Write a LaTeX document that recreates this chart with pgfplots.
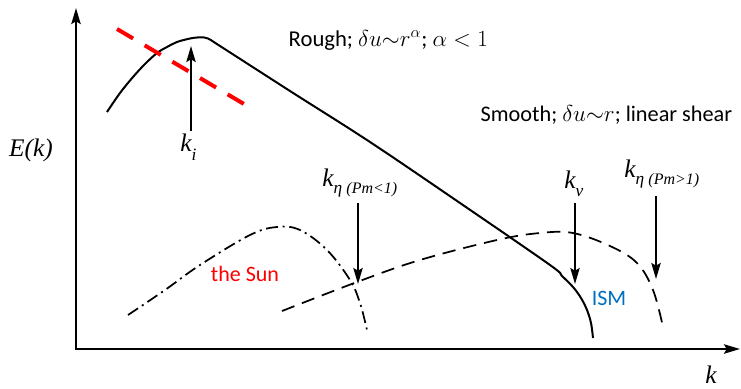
\documentclass[border=0pt]{standalone}
\usepackage{pgfplots}
\pgfplotsset{compat=1.18}
\usetikzlibrary{arrows.meta}
\usepackage{fontspec}
\setmainfont{Carlito}
\newfontfamily\tms{Liberation Serif}
\definecolor{ismblue}{RGB}{0,112,192}
\begin{document}
\begin{tikzpicture}
\begin{axis}[
  scale only axis, width=555.75pt, height=290.25pt,
  xmin=0, xmax=741, ymin=0, ymax=387, y dir=reverse,
  hide axis, clip=false,
  arr/.style={-{Stealth[length=12pt,width=7pt,inset=2pt]}, line width=1.4pt},
]
\path (axis cs:0,0) rectangle (axis cs:741,387);
% axes
\addplot[arr, line width=1.5pt] coordinates {(76,350) (76,8)};
\addplot[arr, line width=1.5pt] coordinates {(75,349) (740,349)};
% main spectrum
\addplot[black, line width=1.5pt, smooth, tension=0.55] coordinates {
 (107,112) (120,93) (133,77) (145,64) (157,53) (167,47) (177,42) (190,38.5) (200,37.3) (208,38.5)
 (220,46) (290,91) (370,142) (460,203) (550,265) (562,276) (573,287) (581,298) (587,310) (591,323) (593,338)};
% red dashed
\addplot[red, line width=3pt, dash pattern=on 14pt off 10.1pt] coordinates {(117,29) (244,104)};
% sun dash-dot
\addplot[black, line width=1.3pt, smooth, tension=0.6, dash pattern=on 9pt off 3.5pt on 1.5pt off 3.5pt] coordinates {
 (128,315) (165,290) (200,265) (250,235) (277,227) (300,230) (327,250) (350,280) (360,303) (367,330)};
% ISM dashed
\addplot[black, line width=1.3pt, smooth, tension=0.6, dash pattern=on 10pt off 6pt] coordinates {
 (282,311) (357,282) (420,260) (497,240) (540,233) (573,233) (610,246) (637,263) (653,290) (663,327)};
% arrows
\addplot[arr] coordinates {(191,131) (191,46)};
\addplot[arr] coordinates {(358,203) (358,284)};
\addplot[arr] coordinates {(575,203) (575,284)};
\addplot[arr] coordinates {(656,196) (656,279)};
% texts
\node[anchor=west, font=\fontsize{17}{20}\selectfont] at (axis cs:284,40) {Rough; $\delta u{\sim}r^{\alpha}$; $\alpha<1$};
\node[anchor=west, font=\fontsize{16.7}{20}\selectfont] at (axis cs:476,115) {Smooth; $\delta u{\sim}r$; linear shear};
\node[font=\tms\itshape\fontsize{19}{22}\selectfont] at (axis cs:31,150) {E(k)};
\node[font=\tms\itshape\fontsize{19}{22}\selectfont] at (axis cs:711,375) {k};
\node[anchor=west, inner sep=0pt, font=\tms\itshape\fontsize{19}{22}\selectfont] at (axis cs:180,147) {k\raisebox{-0.35em}{\fontsize{13}{14}\selectfont i}};
\node[anchor=west, inner sep=0pt, font=\tms\itshape\fontsize{19}{22}\selectfont] at (axis cs:322,183) {k\raisebox{-0.3em}{\fontsize{13}{14}\selectfont η\hspace{0.25em}\fontsize{12}{13}\selectfont (Pm<1)}};
\node[anchor=west, inner sep=0pt, font=\tms\itshape\fontsize{19}{22}\selectfont] at (axis cs:564,184) {k\raisebox{-0.3em}{\fontsize{13}{14}\selectfont ν}};
\node[anchor=west, inner sep=0pt, font=\tms\itshape\fontsize{19}{22}\selectfont] at (axis cs:624,174) {k\raisebox{-0.3em}{\fontsize{13}{14}\selectfont η\hspace{0.25em}\fontsize{12}{13}\selectfont (Pm>1)}};
\node[text=red, font=\fontsize{16.5}{19}\selectfont] at (axis cs:245,274) {the Sun};
\node[text=ismblue, font=\fontsize{16.5}{19}\selectfont] at (axis cs:609,298) {ISM};
\end{axis}
\end{tikzpicture}
\end{document}
